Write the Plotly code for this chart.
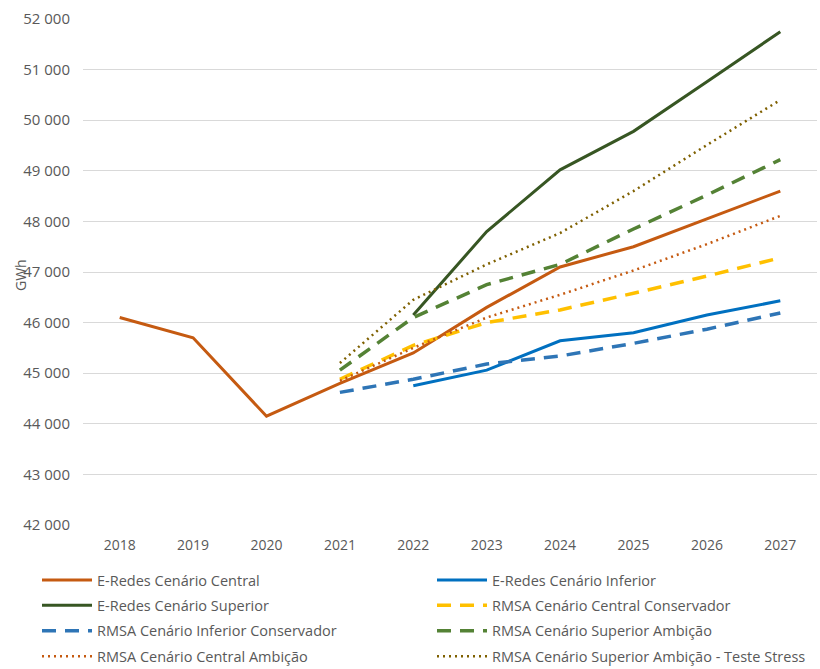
import plotly.graph_objects as go

years = ["2018", "2019", "2020", "2021", "2022", "2023", "2024", "2025", "2026", "2027"]

eredes_central = [46100, 45700, 44150, 44800, 45400, 46300, 47100, 47500, 48050, 48600]
eredes_inferior = [None, None, None, None, 44750, 45060, 45640, 45800, 46150, 46430]
eredes_superior = [None, None, None, None, 46150, 47800, 49020, 49780, 50760, 51750]
rmsa_central_cons = [None, None, None, 44880, 45550, 46000, 46250, 46580, 46920, 47280]
rmsa_inferior_cons = [None, None, None, 44620, 44880, 45180, 45340, 45590, 45870, 46190]
rmsa_superior_amb = [None, None, None, 45060, 46100, 46750, 47150, 47850, 48520, 49220]
rmsa_central_amb = [None, None, None, 44850, 45500, 46100, 46550, 47030, 47550, 48110]
rmsa_superior_stress = [None, None, None, 45200, 46450, 47150, 47770, 48600, 49510, 50400]

# (name, values, colour, dash, width, legend column)
series = [
    ("E-Redes Cenário Central", eredes_central, "#C55A11", "solid", 3, "legend"),
    ("E-Redes Cenário Inferior", eredes_inferior, "#0070C0", "solid", 3, "legend2"),
    ("E-Redes Cenário Superior", eredes_superior, "#375623", "solid", 3, "legend"),
    ("RMSA Cenário Central Conservador", rmsa_central_cons, "#FFC000", "14px,9px", 3.5, "legend2"),
    ("RMSA Cenário Inferior Conservador", rmsa_inferior_cons, "#2E75B6", "14px,9px", 3.5, "legend"),
    ("RMSA Cenário Superior Ambição", rmsa_superior_amb, "#548235", "14px,9px", 3.5, "legend2"),
    ("RMSA Cenário Central Ambição", rmsa_central_amb, "#C55A11", "2px,4px", 2.5, "legend"),
    ("RMSA Cenário Superior Ambição - Teste Stress", rmsa_superior_stress, "#7F6000", "2px,4px", 2.5, "legend2"),
]

fig = go.Figure()
for i, (name, vals, color, dash, width, leg) in enumerate(series):
    fig.add_trace(go.Scatter(
        x=years, y=vals, name=name, mode="lines",
        line=dict(color=color, dash=dash, width=width),
        connectgaps=False, legend=leg, legendgroup=f"g{i}",
    ))

leg_common = dict(
    orientation="v",
    xref="container", yref="container",
    y=0.157, xanchor="left", yanchor="top",
    font=dict(size=14.5, color="#595959"),
    tracegroupgap=3.6,
    itemwidth=50,
    bgcolor="rgba(0,0,0,0)",
)

fig.update_layout(
    width=820, height=669,
    margin=dict(l=83, r=3, t=19, b=144, autoexpand=False),
    paper_bgcolor="white", plot_bgcolor="white",
    font=dict(family="Open Sans, Liberation Sans, sans-serif", size=14, color="#595959"),
    showlegend=True,
    legend=dict(x=37 / 820, **leg_common),
    legend2=dict(x=432 / 820, **leg_common),
    xaxis=dict(
        type="category", range=[-0.5, 9.5],
        showgrid=False, showline=False, zeroline=False,
        ticks="", ticklabelstandoff=10,
        tickfont=dict(size=14, color="#595959"),
    ),
    yaxis=dict(
        range=[41999, 52001], dtick=1000, tick0=42000,
        showgrid=True, gridcolor="#D9D9D9", gridwidth=1,
        zeroline=False, showline=False, ticks="",
        tickformat=",d", separatethousands=True,
        ticklabelstandoff=12,
        tickfont=dict(size=15, color="#595959"),
    ),
    separators=", ",
    annotations=[dict(
        text="GWh", xref="paper", yref="paper",
        x=(20 - 83) / 734, y=(525 - 275) / 506,
        textangle=-90, showarrow=False,
        font=dict(size=14, color="#595959"),
        xanchor="center", yanchor="middle",
    )],
)

fig.write_html("out.html")
